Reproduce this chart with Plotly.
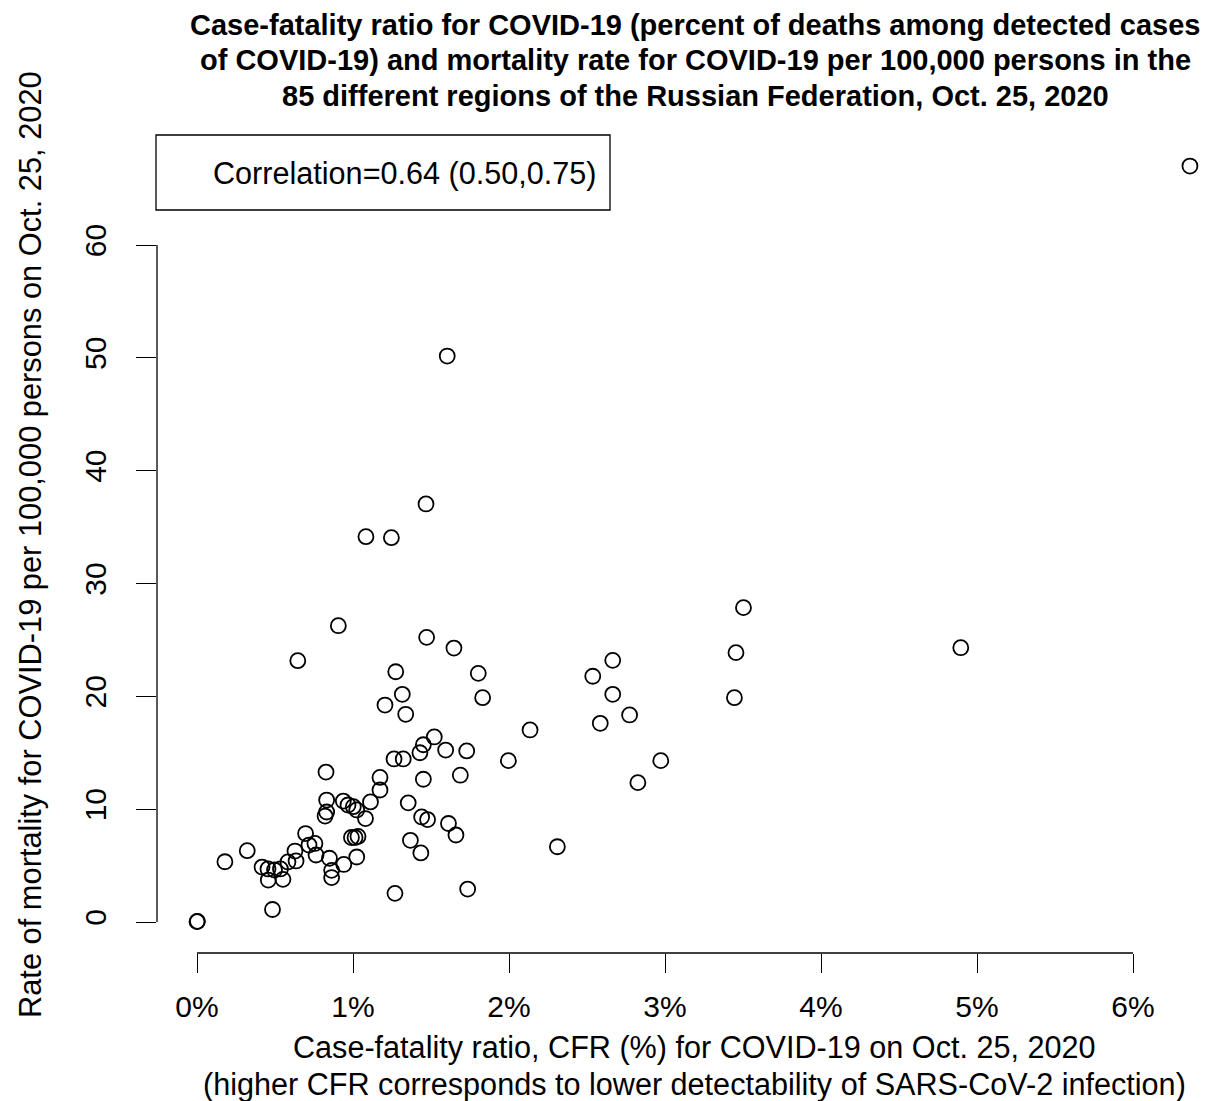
import plotly.graph_objects as go

# CFR (%) per region
cfr = [6.365, 1.604, 1.468, 1.083, 1.246, 0.906, 1.472, 1.647, 0.646, 3.503,
       4.896, 3.455, 2.665, 2.537, 2.665, 3.445, 2.773, 2.585, 2.973, 2.826,
       2.310, 1.274, 1.803, 1.316, 1.831, 1.205, 1.338, 2.135, 1.521, 1.451,
       1.429, 1.594, 1.729, 1.263, 1.322, 1.996, 1.173, 1.451, 1.688, 1.173,
       1.112, 1.354, 1.080, 1.440, 1.478, 1.612, 1.660, 1.368, 1.435, 1.269,
       1.735, 0.827, 0.831, 0.938, 1.002, 1.024, 0.831, 0.821, 0.990, 1.032,
       0.696, 0.718, 0.756, 0.628, 0.763, 0.322, 0.179, 0.583, 0.635, 0.849,
       0.941, 1.024, 0.455, 0.497, 0.535, 0.457, 0.551, 0.863, 0.863, 0.484,
       0.000, 0.003, 1.013, 0.968, 0.417]

# Mortality per 100,000
mortality = [67.0, 50.16, 37.05, 34.15, 34.06, 26.26, 25.23, 24.28, 23.16, 27.86,
             24.31, 23.87, 23.19, 21.78, 20.18, 19.88, 18.35, 17.61, 14.30, 12.35,
             6.67, 22.18, 22.04, 20.18, 19.88, 19.23, 18.41, 17.02, 16.40, 15.71,
             15.00, 15.24, 15.16, 14.45, 14.45, 14.30, 12.81, 12.65, 13.01, 11.70,
             10.64, 10.56, 9.17, 9.31, 9.08, 8.73, 7.71, 7.24, 6.12, 2.54,
             2.92, 13.29, 10.81, 10.72, 10.22, 9.93, 9.75, 9.39, 7.49, 7.58,
             7.84, 6.82, 6.96, 6.29, 5.94, 6.32, 5.34, 5.32, 5.41, 5.65,
             5.10, 5.76, 4.70, 4.61, 4.70, 3.72, 3.78, 4.58, 3.94, 1.11,
             0.03, 0.06, 7.49, 10.37, 4.87]

x_ticks = [0, 1, 2, 3, 4, 5, 6]
x_tick_labels = ["0%", "1%", "2%", "3%", "4%", "5%", "6%"]
y_ticks = [0, 10, 20, 30, 40, 50, 60]

title_lines = [
    "Case-fatality ratio for COVID-19 (percent of deaths among detected cases",
    "of COVID-19) and mortality rate for COVID-19 per 100,000 persons in the",
    "85 different regions of the Russian Federation, Oct. 25, 2020",
]
x_title_lines = [
    "Case-fatality ratio, CFR (%) for COVID-19 on Oct. 25, 2020",
    "(higher CFR corresponds to lower detectability of SARS-CoV-2 infection)",
]
y_title = "Rate of mortality for COVID-19 per 100,000 persons on Oct. 25, 2020"
legend_text = "Correlation=0.64 (0.50,0.75)"

FONT = "Liberation Sans, Arial, sans-serif"
OFF = 8  # page body margin
W, H = 1218 - OFF, 1101 - OFF
L, R, T, B = 157 - OFF, 0, 135 - OFF, 148
PW, PH = W - L - R, H - T - B


def px_x(p):
    # p: x pixel in the reference image
    return (p - OFF - L) / PW


def px_y(p):
    # p: y pixel in the reference image
    return (H - B - (p - OFF)) / PH


fig = go.Figure()
fig.add_trace(go.Scatter(
    x=cfr, y=mortality, mode="markers",
    marker=dict(symbol="circle-open", size=15, color="black",
                line=dict(width=1.8, color="black")),
    showlegend=False, hoverinfo="x+y",
))

shapes = [
    # R-style axis lines spanning tick range
    dict(type="line", xref="x", yref="paper", x0=0, x1=6, y0=0, y1=0,
         line=dict(color="black", width=1.3)),
    dict(type="line", xref="paper", yref="y", x0=0, x1=0, y0=0, y1=60,
         line=dict(color="black", width=1.3)),
    # legend box
    dict(type="rect", xref="paper", yref="paper",
         x0=px_x(156), x1=px_x(610), y0=px_y(210), y1=px_y(135),
         line=dict(color="black", width=1.3), fillcolor="rgba(0,0,0,0)"),
]

annotations = []
for i, line in enumerate(title_lines):
    annotations.append(dict(
        text=f"<b>{line}</b>", xref="paper", yref="paper",
        x=px_x(695), y=px_y(25 + i * 35.5), xanchor="center", yanchor="middle",
        showarrow=False, font=dict(family=FONT, size=29, color="black")))
for i, line in enumerate(x_title_lines):
    annotations.append(dict(
        text=line, xref="paper", yref="paper",
        x=px_x(694), y=px_y(1047 + i * 37), xanchor="center", yanchor="middle",
        showarrow=False, font=dict(family=FONT, size=30.6, color="black")))
annotations.append(dict(
    text=y_title, xref="paper", yref="paper", textangle=-90,
    x=px_x(30), y=px_y(545), xanchor="center", yanchor="middle",
    showarrow=False, font=dict(family=FONT, size=30.8, color="black")))
annotations.append(dict(
    text=legend_text, xref="paper", yref="paper",
    x=px_x(211), y=px_y(173), xanchor="left", yanchor="middle",
    showarrow=False, font=dict(family=FONT, size=30.6, color="black")))

fig.update_layout(
    width=W, height=H,
    margin=dict(l=L, r=R, t=T, b=B, pad=0),
    paper_bgcolor="white", plot_bgcolor="white",
    font=dict(family=FONT, size=30, color="black"),
    shapes=shapes, annotations=annotations,
    xaxis=dict(range=[(157 - 197) / 156, (1218 - 197) / 156],
               tickmode="array", tickvals=x_ticks, ticktext=x_tick_labels,
               ticks="outside", ticklen=19, tickwidth=1.3, tickcolor="black",
               showgrid=False, zeroline=False, showline=False,
               ticklabelstandoff=8,
               tickfont=dict(family=FONT, size=30, color="black")),
    yaxis=dict(range=[-(953 - 922) / 11.283, (922 - 135) / 11.283],
               tickmode="array", tickvals=y_ticks,
               ticks="outside", ticklen=20, tickwidth=1.3, tickcolor="black",
               showgrid=False, zeroline=False, showline=False,
               tickangle=-90, ticklabelstandoff=18,
               tickfont=dict(family=FONT, size=30, color="black")),
)

fig.write_html("out.html")
